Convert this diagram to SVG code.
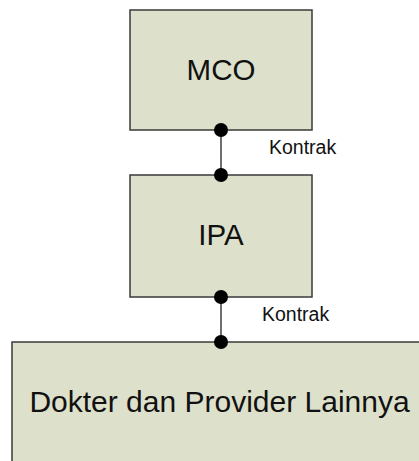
<svg xmlns="http://www.w3.org/2000/svg" width="419" height="461" viewBox="0 0 419 461">
<style>
.box{fill:#dde0ca;stroke:#3a3a3a;stroke-width:1.5}
.big{font-family:"Liberation Sans",Arial,sans-serif;font-size:29.5px;fill:#111;text-anchor:middle}
.lbl{font-family:"Liberation Sans",Arial,sans-serif;font-size:19.5px;fill:#111}
.wire{stroke:#222;stroke-width:1.3;fill:none}
.dot{fill:#000}
</style>
<rect width="419" height="461" fill="#fff"/>
<g id="mco">
<rect class="box" x="130" y="10" width="182" height="120"/>
<text class="big" x="221" y="80">MCO</text>
</g>
<g id="ipa">
<rect class="box" x="130" y="175" width="182" height="122"/>
<text class="big" x="221" y="245">IPA</text>
</g>
<g id="dokter">
<rect class="box" x="12" y="342" width="420" height="140"/>
<text class="big" x="219.5" y="412" style="font-size:30px">Dokter dan Provider Lainnya</text>
</g>
<g id="connectors">
<line class="wire" x1="221" y1="130" x2="221" y2="175"/>
<circle class="dot" cx="221" cy="130" r="7"/>
<circle class="dot" cx="221" cy="175" r="7"/>
<text class="lbl" x="269" y="154">Kontrak</text>
<line class="wire" x1="221" y1="297" x2="221" y2="342"/>
<circle class="dot" cx="221" cy="297" r="7"/>
<circle class="dot" cx="221" cy="342" r="7"/>
<text class="lbl" x="262" y="321">Kontrak</text>
</g>
</svg>
